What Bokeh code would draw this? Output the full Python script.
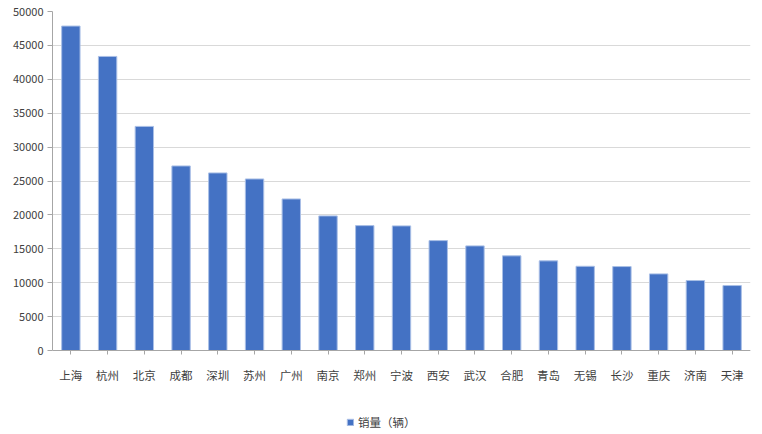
from bokeh.plotting import figure
from bokeh.models import ColumnDataSource, Range1d, FixedTicker, Legend, LegendItem
from bokeh.embed import file_html
from bokeh.resources import INLINE

categories = ["上海", "杭州", "北京", "成都", "深圳", "苏州", "广州", "南京", "郑州", "宁波",
              "西安", "武汉", "合肥", "青岛", "无锡", "长沙", "重庆", "济南", "天津"]
sales = [47850, 43370, 33050, 27220, 26190, 25300, 22350, 19850, 18420, 18380,
         16210, 15430, 13960, 13220, 12420, 12380, 11300, 10320, 9580]
y_ticks = [0, 5000, 10000, 15000, 20000, 25000, 30000, 35000, 40000, 45000, 50000]
series_name = "销量（辆）"

FONT = "Noto Sans CJK SC"
TXT = "#404040"

source = ColumnDataSource(data=dict(cat=categories, val=sales))

# the frame reaches the bottom of the page; the value range goes below 0 so that
# the category axis (fixed at 0) and the legend sit in the lower strip
p = figure(x_range=categories, y_range=Range1d(-12389, 50000), width=762, height=434,
           output_backend="svg", toolbar_location=None,
           min_border_left=52, min_border_right=12, min_border_top=11, min_border_bottom=0)
p.outline_line_color = None
p.background_fill_color = "white"
p.border_fill_color = "white"

r = p.vbar(x="cat", top="val", width=0.5, source=source,
           fill_color="#4472C4", line_color="#a9bfe6", line_width=1)

p.xgrid.grid_line_color = None
p.ygrid.grid_line_color = "#d9d9d9"
p.ygrid.grid_line_width = 1

p.yaxis.ticker = FixedTicker(ticks=y_ticks)
p.yaxis.bounds = (0, 50000)
p.yaxis.minor_tick_line_color = None
p.yaxis.major_tick_out = 5
p.yaxis.major_tick_in = 0
p.yaxis.major_label_standoff = 4
p.yaxis.axis_line_color = "#a6a6a6"
p.yaxis.major_tick_line_color = "#a6a6a6"
p.yaxis.major_label_text_font = FONT
p.yaxis.major_label_text_font_size = "11px"
p.yaxis.major_label_text_color = TXT

p.xaxis.fixed_location = 0
p.xaxis.major_tick_out = 4
p.xaxis.major_tick_in = 0
p.xaxis.major_label_standoff = 12
p.xaxis.axis_line_color = "#a6a6a6"
p.xaxis.major_tick_line_color = "#a6a6a6"
p.xaxis.major_label_text_font = FONT
p.xaxis.major_label_text_font_size = "11.5px"
p.xaxis.major_label_text_color = TXT

legend = Legend(items=[LegendItem(label=series_name, renderers=[r])],
                location=(294, 4), padding=0, margin=0,
                glyph_width=8, glyph_height=8, label_standoff=4,
                border_line_color=None, background_fill_alpha=0,
                label_text_font=FONT, label_text_font_size="11.5px",
                label_text_color=TXT)
p.add_layout(legend, "center")

open("out.html", "w").write(file_html(p, INLINE))
